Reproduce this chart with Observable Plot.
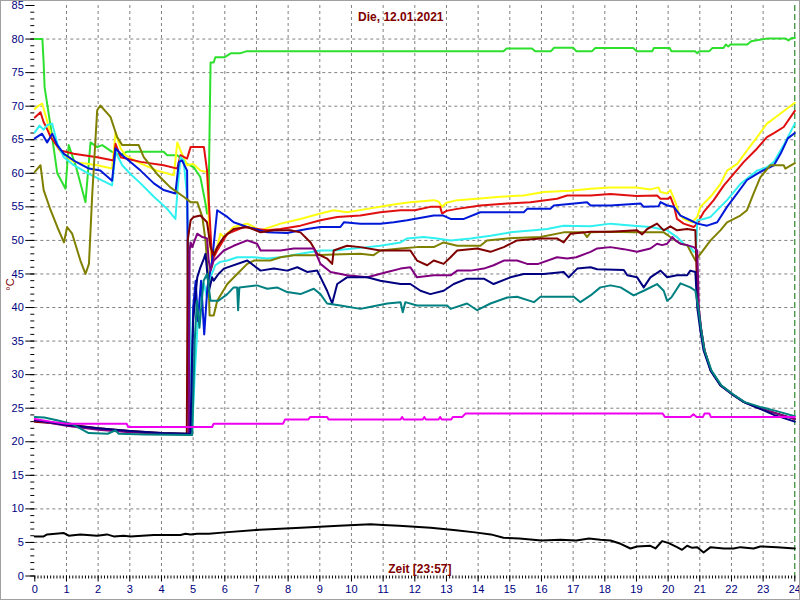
<!DOCTYPE html>
<html>
<head>
<meta charset="utf-8">
<script src="https://cdn.jsdelivr.net/npm/d3@7"></script>
<script src="https://cdn.jsdelivr.net/npm/@observablehq/plot@0.6"></script>
<style>
  html, body { margin: 0; padding: 0; background: #fff; }
  #chart svg { display: block; outline: 1px solid #a0a0a0; outline-offset: -1px; }
</style>
</head>
<body>
<div id="chart"></div>
<script>
// ---- texts ----
const title = "Die, 12.01.2021";
const xTitle = "Zeit [23:57]";
const yTitle = "°C";

// ---- ticks ----
const xMajorTicks = d3.range(0, 25, 1);
const xMinorTicks = d3.range(0, 241, 1).map(d => d / 10);
const yMajorTicks = d3.range(0, 86, 5);
const yMinorTicks = d3.range(0, 86, 1);
const xGrid = d3.range(1, 24, 1);
const yGrid = d3.range(5, 81, 5);

// ---- series [hour, °C] ----
const green = [[0,80],[0.24,80],[0.28,76.4],[0.31,72.8],[0.5,67],[0.71,60],[0.97,57.7],[1.07,64.2],[1.3,61],[1.6,55.7],[1.76,64.6],[1.97,63.9],[2.13,64.2],[2.44,63.2],[2.71,62.7],[2.9,63.2],[3.23,63.2],[4.07,63.2],[4.18,62.7],[4.5,62.7],[4.81,61.4],[5.02,60.9],[5.23,59.4],[5.39,55.5],[5.44,54],[5.49,54],[5.5,60],[5.55,76.5],[5.65,76.5],[5.7,77.3],[6.0,77.3],[6.2,77.9],[6.5,77.9],[6.7,78.2],[14.8,78.2],[14.9,78.6],[15.7,78.6],[15.8,78.2],[16.3,78.2],[16.4,78.7],[17.0,78.7],[17.1,78.2],[17.6,78.2],[17.7,78.66],[18.9,78.66],[19.0,78.2],[19.5,78.2],[19.55,78.66],[20.05,78.66],[20.1,78.2],[20.85,78.2],[20.92,77.9],[21.0,78.2],[21.3,78.2],[21.4,78.66],[21.75,78.66],[21.82,79.2],[21.9,78.9],[21.97,79.2],[22.5,79.2],[22.62,79.66],[23.15,80.1],[23.7,80.1],[23.8,79.8],[23.9,80.15],[24,80.15]];
const yellow = [[0,69.6],[0.13,70.1],[0.23,70.4],[0.34,68.6],[0.5,65.9],[0.65,64.4],[0.81,63.2],[1.23,61.7],[1.97,61.2],[2.44,60.7],[2.55,66.1],[2.71,63.7],[2.86,62.7],[3.23,61.7],[3.86,60.4],[4.39,59.7],[4.5,64.6],[4.6,63.4],[4.81,61.2],[5.0,61.4],[5.23,60.4],[5.44,60.2],[5.52,50],[5.6,46],[5.65,48.3],[5.76,49],[5.86,51],[5.97,50.5],[6.28,52],[6.71,52.5],[7.13,51.5],[7.76,52.5],[8.39,53.2],[9.02,54],[9.44,54.5],[9.86,54.2],[10.5,54.7],[11.13,55.2],[11.55,55.5],[11.86,55.7],[12.6,56],[12.75,55.8],[12.86,55],[13.0,55.6],[13.34,56],[13.97,56.2],[14.7,56.5],[15.44,56.7],[16.07,57.2],[16.92,57.4],[17.55,57.7],[18.18,57.9],[19.0,57.9],[19.44,57.6],[19.7,57.9],[19.76,57.2],[19.97,57],[20.07,57.5],[20.23,55.7],[20.34,54],[20.49,53.2],[20.76,52.7],[20.92,53.5],[21.02,55],[21.34,56.5],[21.65,58.4],[21.86,60.4],[22.18,61.4],[22.49,63.4],[22.81,65.4],[23.12,67.4],[23.55,68.9],[24,70.5]];
const red = [[0,68.3],[0.18,69.1],[0.28,67.6],[0.34,67.1],[0.5,65.4],[0.81,63.4],[1.23,62.9],[1.97,62.4],[2.49,61.9],[2.55,64.4],[2.71,62.4],[3.34,61.7],[4.07,61.2],[4.5,60.7],[4.6,62.7],[4.81,62.2],[4.92,63.9],[5.34,63.9],[5.44,60.4],[5.6,47],[5.76,48.5],[6.08,51],[6.6,52],[7.02,51.7],[7.34,51.5],[7.76,51.7],[8.39,52.2],[9.02,53],[9.55,53.5],[10.28,53.7],[10.91,54.2],[11.55,54.5],[12.0,54.5],[12.49,55],[12.8,55],[12.86,54],[13.0,54.4],[13.34,54.7],[14.07,55.2],[14.92,55.5],[15.65,55.7],[16.49,56.2],[16.81,56.7],[17.55,56.7],[18.18,56.9],[19.0,56.6],[19.65,56.7],[19.76,56.2],[20.0,56.2],[20.07,56.5],[20.18,55.2],[20.28,53.2],[20.49,52.5],[20.81,52],[20.92,52.5],[21.12,54.2],[21.44,56],[21.76,58.2],[22.07,59.9],[22.39,61.7],[22.81,63.7],[23.12,65.4],[23.34,66],[23.65,66.9],[24,69.3]];
const cyan = [[0,66.1],[0.15,67.1],[0.28,66.5],[0.4,67.2],[0.55,67.4],[0.71,64.4],[0.92,62.4],[1.23,61.2],[1.71,59.9],[2.44,58.2],[2.55,63.2],[2.76,61.2],[3.02,59.9],[3.34,58.5],[3.76,56.5],[4.18,54.7],[4.44,53.2],[4.5,57],[4.6,62.4],[4.7,61.9],[4.8,57],[4.9,40],[4.97,21.5],[5.05,30],[5.13,36.6],[5.23,42.5],[5.34,43.6],[5.44,41.5],[5.55,44.5],[5.7,46.3],[5.86,46.8],[6.08,47],[6.39,47.5],[6.92,47.5],[7.34,47.3],[7.76,47.5],[8.39,48],[9.02,48.5],[9.44,48.5],[10.07,48.8],[10.5,49],[10.91,49.2],[11.55,49.7],[11.76,50.3],[12.28,50.5],[12.71,50.3],[13.13,50],[13.76,50.3],[14.39,50.7],[15.02,51.2],[15.76,51.5],[16.18,51.7],[16.7,52.2],[17.55,52.1],[18.18,52.5],[18.91,52.2],[19.44,52],[19.97,51.5],[20.28,50.5],[20.49,49.5],[20.7,49],[20.81,48.3],[20.88,48.3],[20.92,53],[21.12,53.2],[21.34,53.5],[21.86,56],[22.28,58.4],[22.81,60.4],[23.12,60.9],[23.34,61.7],[23.65,64.2],[24,67.4]];
const blue = [[0,65.2],[0.23,65.9],[0.39,64.6],[0.55,65.9],[0.71,64.2],[0.92,62.9],[1.23,61.9],[1.71,60.7],[2.07,60.4],[2.44,58.9],[2.55,63.7],[2.76,62.7],[3.02,61.7],[3.34,60.4],[3.76,58.5],[4.07,57.5],[4.44,57],[4.55,61.7],[4.65,61.9],[4.81,60.4],[4.84,40],[4.87,21.5],[4.95,21.5],[5.0,40],[5.08,44],[5.15,38],[5.25,44],[5.35,36],[5.45,43],[5.6,47],[5.76,54.5],[6.08,53.5],[6.28,52.7],[6.71,52],[7.34,51.2],[7.97,51.1],[8.39,51.5],[8.6,51.7],[9.02,52],[9.65,52],[9.76,52.7],[10.28,52.5],[10.91,52.5],[11.34,52.7],[11.76,53],[12.6,53.7],[12.9,53.7],[13.13,53.2],[13.55,53.2],[14.07,54.2],[15.44,54.2],[15.55,54.7],[16.28,54.7],[16.39,55.2],[17.44,55.7],[17.55,55.2],[18.18,55.2],[19.13,55.5],[19.23,55],[19.7,55.1],[19.76,55.7],[19.97,55.2],[20.18,55],[20.39,53.7],[20.7,53],[20.92,52.5],[21.23,52.2],[21.55,52.7],[21.86,55],[22.18,57],[22.49,59],[22.91,60.2],[23.34,61.2],[23.55,62.9],[23.78,65.2],[24,66]];
const olive = [[0,60.2],[0.18,61.2],[0.28,57.5],[0.5,54.5],[0.71,52],[0.92,49.7],[1.02,52],[1.18,51],[1.44,47],[1.6,45],[1.71,46.5],[1.81,56.5],[1.97,69.4],[2.07,70.1],[2.39,68.4],[2.6,65.4],[2.76,64.2],[3.02,64.2],[3.28,64.2],[3.44,62.4],[3.86,59.9],[4.07,58.9],[4.28,57.9],[4.7,56.5],[4.92,55.7],[5.13,55.7],[5.29,53.5],[5.39,50],[5.49,43.5],[5.52,38.8],[5.65,38.8],[5.76,41],[6.08,43.5],[6.39,45],[6.71,46.5],[6.92,47],[7.44,47],[7.76,47.5],[8.18,47.8],[8.81,47.8],[9.44,47.9],[10.28,48],[10.7,47.8],[10.91,48.5],[11.55,48.8],[12.07,49],[12.6,49],[12.91,49.7],[13.34,49.2],[14.07,49.2],[14.28,50],[14.92,50.3],[15.97,50.5],[16.7,51.2],[17.33,51.2],[17.44,50.5],[17.55,51.2],[18.18,51.3],[18.91,51.2],[19.86,51.2],[20.07,50.5],[20.39,49.5],[20.6,49.3],[20.86,47],[21.02,48],[21.34,50],[21.65,51.5],[21.86,52.7],[22.28,53.7],[22.49,54.5],[22.7,57],[22.91,59.4],[23.23,61.2],[23.65,61.2],[23.7,60.7],[24,61.5]];
const maroon = [[0,23],[1,22.6],[2,22],[3,21.6],[4,21.3],[4.8,21.2],[4.83,50],[4.92,53],[5.02,53.5],[5.23,53.7],[5.44,52.7],[5.55,49],[5.65,47.8],[5.76,49],[5.97,50.5],[6.28,51.7],[6.71,52],[7.13,51.2],[7.55,51.5],[8.07,51.5],[8.39,51.2],[8.71,49.7],[8.92,48],[9.23,47.3],[9.39,46.5],[9.44,48.5],[9.86,49.2],[10.28,49],[10.91,48.5],[11.55,48.5],[11.86,48.5],[12.07,47],[12.39,46.3],[12.6,47],[12.91,46.5],[13.13,47.5],[13.34,48.5],[13.97,48.8],[14.39,48.3],[14.81,49],[15.23,50],[15.97,50.3],[16.49,50.3],[16.7,49.7],[16.92,51],[17.55,51.3],[18.18,51.3],[19.02,51.5],[19.18,50.9],[19.34,51.7],[19.65,52.5],[19.86,51.5],[20.07,52.1],[20.28,51.5],[20.6,51.7],[20.86,51.5],[20.9,45],[20.95,40],[21.05,36.5],[21.15,33.6],[21.35,30.6],[21.66,28.4],[22.08,26.9],[22.4,25.9],[22.88,25],[23.36,24.3],[24,23.4]];
const purple = [[0,23.2],[1,22.4],[2,21.8],[3,21.4],[4,21.2],[4.86,21.1],[4.89,48.5],[4.92,49.7],[4.97,49],[5.13,51],[5.29,50.5],[5.44,50.3],[5.49,47],[5.55,45.5],[5.65,47],[5.76,47.5],[5.97,48.5],[6.28,49.2],[6.71,50],[7.02,49.5],[7.13,48.5],[7.76,48.5],[8.18,48.8],[8.81,48.8],[9.02,46.5],[9.34,45.3],[9.86,44.8],[10.5,44.5],[11.13,45.3],[11.55,45.8],[11.86,46],[12.07,44.5],[12.6,44.8],[13.13,44.8],[13.34,45.5],[13.76,45.5],[14.18,45.8],[14.49,46.3],[14.81,47],[15.23,47],[15.55,46.5],[15.9,46.5],[16.49,47.5],[16.81,47.3],[17.1,47.5],[17.55,48.3],[17.76,48.8],[18.18,49],[18.6,48.7],[19.02,48.3],[19.44,48.8],[19.65,49.5],[19.81,49.3],[19.97,49.5],[20.13,50.5],[20.23,50],[20.39,49.5],[20.6,49.3],[20.81,49],[20.92,48.5],[20.97,40],[21.05,36.5],[21.15,33.6],[21.35,30.6],[21.66,28.4],[22.08,26.9],[22.4,25.9],[22.88,25],[23.36,24.3],[24,23.4]];
const navy = [[0,23.2],[0.5,22.9],[1,22.5],[2,22],[3,21.6],[4,21.3],[4.92,21.2],[4.95,30],[5.0,38],[5.13,44.5],[5.23,46],[5.34,47.3],[5.39,48],[5.5,42.5],[5.6,44.5],[5.65,44],[5.8,45],[5.97,45.8],[6.71,47],[7.13,45.5],[7.55,45.8],[7.97,45.5],[8.29,46],[8.6,45.3],[8.92,45.5],[9.23,42.5],[9.39,40.6],[9.55,43.5],[9.86,44.5],[10.5,44.5],[10.91,44],[11.55,43.5],[11.86,43.5],[12.18,42.5],[12.49,42],[12.91,42.5],[13.23,43.5],[13.65,44.3],[14.18,44.3],[14.49,43.5],[15.02,44.5],[15.44,45],[16.07,45],[16.7,45.3],[16.86,44.5],[17.13,45.8],[17.55,46],[17.76,45.7],[18.6,45.6],[18.71,44.8],[19.02,44.5],[19.23,43],[19.44,44.5],[19.76,45.5],[19.97,44.5],[20.28,44.8],[20.6,44.8],[20.7,45.5],[20.86,45.3],[20.92,40],[21.02,36.5],[21.12,33.6],[21.34,30.6],[21.65,28.4],[22.07,26.9],[22.39,25.9],[22.86,25],[23.34,24],[23.8,23.3],[24,23]];
const teal = [[0,23.7],[0.3,23.6],[0.7,23.2],[1.2,22.6],[1.7,21.3],[2.3,21.2],[2.55,21.7],[2.65,21.2],[3.5,21.1],[4.97,21.0],[5.05,35],[5.12,41],[5.2,37],[5.33,44],[5.44,45],[5.55,41],[5.8,41],[6.08,42],[6.28,43],[6.39,43],[6.42,39.6],[6.46,43],[7.02,43.3],[7.34,42.8],[7.65,43],[7.97,42.3],[8.39,42],[8.81,42.8],[9.02,42],[9.23,40.6],[9.65,40.3],[10.28,39.8],[10.5,40],[11.13,40.6],[11.55,40.8],[11.62,39.3],[11.7,40.8],[12.07,40.3],[13.02,40.3],[13.13,39.8],[13.65,40.6],[13.97,39.6],[14.39,40.6],[14.92,41.5],[15.23,41.6],[15.76,40.8],[15.97,41.6],[17.02,41.6],[17.23,40.8],[17.55,41.8],[17.86,43],[18.18,43.3],[18.5,43],[18.91,41.8],[19.23,42.5],[19.65,43.5],[19.86,42.5],[19.97,41],[20.1,41.5],[20.39,43.6],[20.7,43],[20.86,42.5],[20.95,40],[21.05,36.5],[21.15,33.6],[21.37,30.6],[21.68,28.4],[22.1,26.9],[22.42,25.9],[22.9,25.2],[23.4,24.6],[24,23.8]];
const magenta = [[0,23.4],[0.5,23.0],[1.0,22.7],[2.9,22.7],[2.95,22.2],[5.6,22.2],[5.65,22.7],[7.84,22.7],[7.9,23.3],[8.63,23.3],[8.7,23.7],[9.23,23.7],[9.28,23.3],[11.55,23.3],[11.6,23.7],[11.65,23.3],[12.25,23.3],[12.3,23.7],[12.35,23.3],[12.75,23.3],[12.8,23.7],[12.85,23.3],[13.15,23.3],[13.2,23.7],[13.5,23.7],[13.6,24.2],[19.83,24.2],[19.9,23.7],[20.7,23.7],[20.8,24.1],[20.9,23.7],[21.1,23.7],[21.15,24.2],[21.3,24.2],[21.35,23.7],[24,23.7]];
const black = [[0,5.9],[0.28,5.9],[0.39,6.2],[0.92,6.4],[1.07,6.0],[1.44,6.2],[1.97,6.0],[2.28,6.2],[2.49,5.9],[2.81,6.0],[3.02,5.9],[3.76,6.1],[4.6,6.1],[4.76,6.3],[4.92,6.2],[5.13,6.3],[5.5,6.3],[6.0,6.5],[7.1,6.9],[8.4,7.2],[9.6,7.5],[10.6,7.7],[11.0,7.6],[11.5,7.5],[12.5,7.2],[13.3,6.8],[13.9,6.5],[14.4,6.2],[14.8,5.7],[15.3,5.6],[16.0,5.3],[16.6,5.4],[17.1,5.3],[17.5,5.6],[17.86,5.4],[18.18,5.3],[18.5,4.8],[18.81,4.1],[19.02,4.4],[19.44,4.5],[19.6,4.1],[19.81,5.2],[20.02,4.9],[20.28,4.3],[20.44,3.9],[20.6,4.5],[20.76,4.2],[20.92,4.3],[21.12,3.5],[21.34,4.3],[21.76,4.1],[22.07,4.1],[22.28,4.3],[22.7,4.1],[22.91,4.4],[23.44,4.3],[24,4.1]];

const seriesNames = ["green","yellow","red","cyan","blue","olive","maroon","purple","navy","teal","magenta","black"];
const seriesData = [green, yellow, red, cyan, blue, olive, maroon, purple, navy, teal, magenta, black];
const seriesColors = ["#2ee02e","#ffff10","#e01010","#30f0f0","#0018d8","#808000","#800000","#800080","#000080","#008080","#f000f0","#000000"];

const gridStyle = {stroke: "#808080", strokeOpacity: 1, strokeWidth: 1, strokeDasharray: "3,3"};

const lineMarks = seriesData.map((pts, i) =>
  Plot.line(pts, {x: d => d[0], y: d => d[1], stroke: seriesColors[i], strokeWidth: 2, strokeLinejoin: "round"})
);

const chart = Plot.plot({
  width: 800,
  height: 600,
  marginLeft: 34.3,
  marginRight: 5.7,
  marginTop: 5,
  marginBottom: 24.5,
  style: {fontFamily: "'Liberation Sans', Arial, sans-serif", fontSize: "11px", background: "#fff"},
  x: {domain: [0, 24]},
  y: {domain: [0, 85]},
  marks: [
    Plot.gridX(xGrid, gridStyle),
    Plot.gridY(yGrid, gridStyle),
    Plot.ruleX([24], {stroke: "#007000", strokeWidth: 1, strokeDasharray: "6,3"}),
    Plot.axisY(yMinorTicks, {tickSize: 4, fill: "none", stroke: "#000", label: null}),
    Plot.axisY(yMajorTicks, {tickSize: 9, tickPadding: 2, stroke: "#000", fill: "#000080", label: null, fontSize: 11}),
    Plot.axisX(xMinorTicks, {tickSize: 3, fill: "none", stroke: "#000", label: null}),
    Plot.axisX(xMajorTicks, {tickSize: 6, tickPadding: 3, stroke: "#000", fill: "#000080", label: null, fontSize: 11}),
    ...lineMarks,
    Plot.text([title], {frameAnchor: "top", lineAnchor: "middle", dy: 12, dx: -14, fill: "#800000", fontWeight: "bold", fontSize: 12}),
    Plot.text([xTitle], {frameAnchor: "bottom", lineAnchor: "middle", dy: -6.5, dx: 5, fill: "#800000", fontWeight: "bold", fontSize: 12}),
    Plot.text([yTitle], {frameAnchor: "left", lineAnchor: "middle", dx: -24, rotate: -90, fill: "#800000", fontSize: 11})
  ]
});
document.getElementById("chart").append(chart);
</script>
</body>
</html>
